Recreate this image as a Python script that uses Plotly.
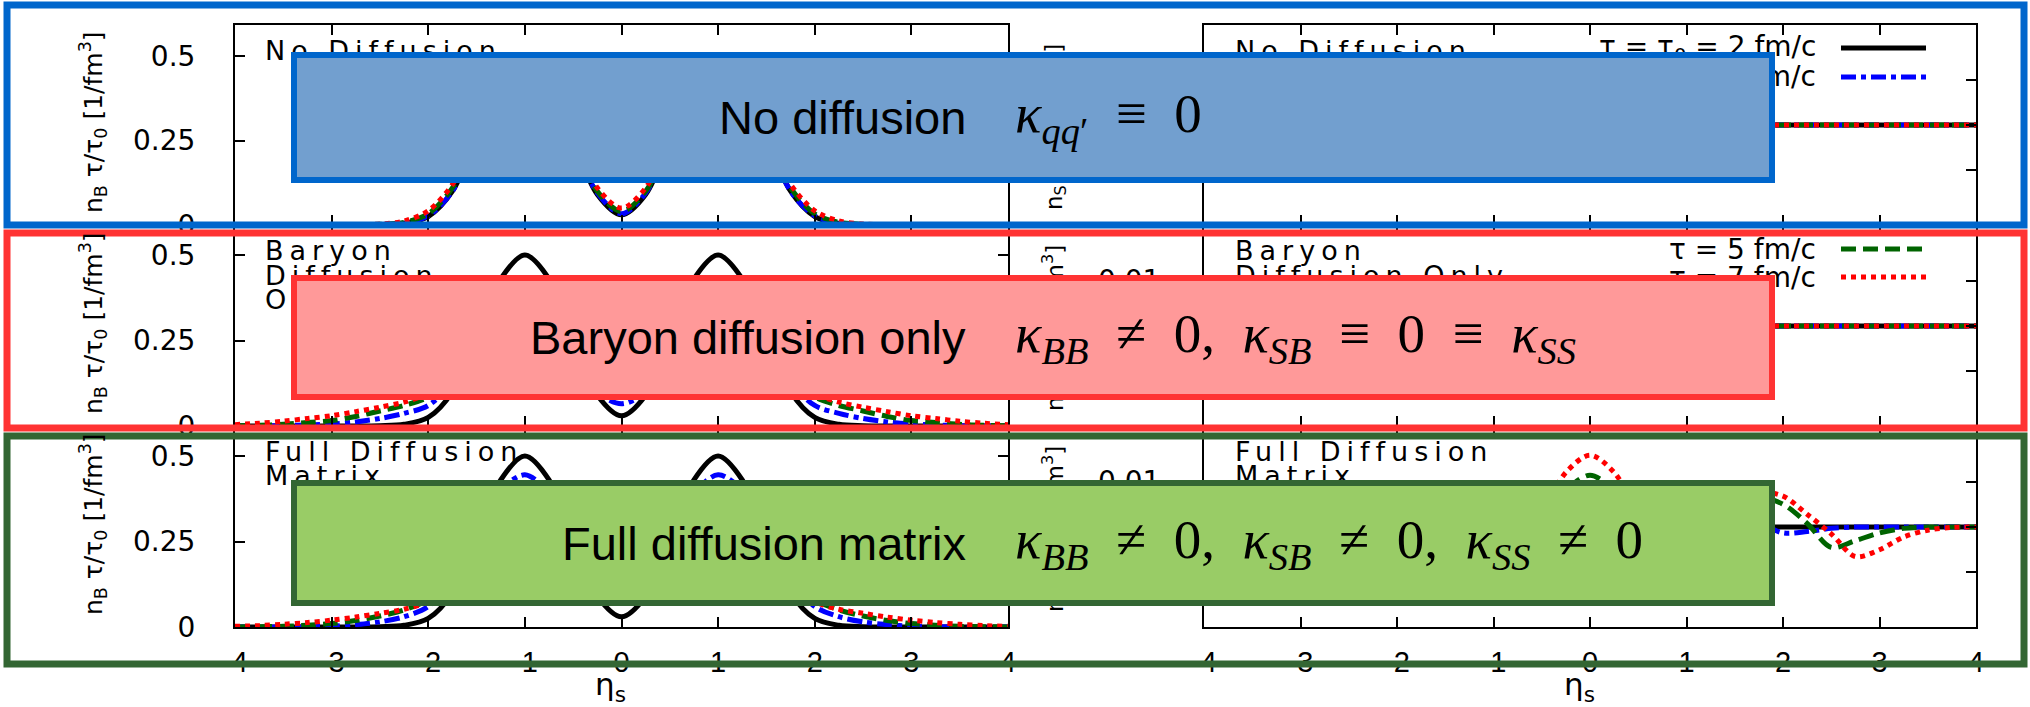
import plotly.graph_objects as go

W, H = 2030, 707

# ---------------- data ----------------
eta = [-4.0, -3.75, -3.5, -3.25, -3.0, -2.75, -2.5, -2.25, -2.0, -1.75, -1.5, -1.25, -1.0,
       -0.75, -0.5, -0.25, 0.0, 0.25, 0.5, 0.75, 1.0, 1.25, 1.5, 1.75, 2.0, 2.25, 2.5, 2.75,
       3.0, 3.25, 3.5, 3.75, 4.0]
eta_flat = [-4.0, 4.0]

# n_B tau/tau0 ; tau = tau0 = 2 fm/c (same initial profile in every row)
nb_t2 = [0, 0, 0, 0, 0, 0, 0.001, 0.005, 0.025, 0.10, 0.26, 0.43, 0.50, 0.43, 0.25, 0.09, 0.03,
         0.09, 0.25, 0.43, 0.50, 0.43, 0.26, 0.10, 0.025, 0.005, 0.001, 0, 0, 0, 0, 0, 0]
# No diffusion
nb_nodiff_t3 = [0, 0, 0, 0, 0, 0, 0.001, 0.006, 0.027, 0.10, 0.26, 0.43, 0.495, 0.43, 0.25, 0.095, 0.033,
                0.095, 0.25, 0.43, 0.495, 0.43, 0.26, 0.10, 0.027, 0.006, 0.001, 0, 0, 0, 0, 0, 0]
nb_nodiff_t5 = [0, 0, 0, 0, 0, 0, 0.002, 0.008, 0.033, 0.11, 0.26, 0.42, 0.49, 0.42, 0.25, 0.10, 0.04,
                0.10, 0.25, 0.42, 0.49, 0.42, 0.26, 0.11, 0.033, 0.008, 0.002, 0, 0, 0, 0, 0, 0]
nb_nodiff_t7 = [0, 0, 0, 0, 0, 0.001, 0.003, 0.012, 0.042, 0.12, 0.26, 0.41, 0.48, 0.41, 0.26, 0.11, 0.05,
                0.11, 0.26, 0.41, 0.48, 0.41, 0.26, 0.12, 0.042, 0.012, 0.003, 0.001, 0, 0, 0, 0, 0]
# Baryon diffusion only
nb_bdiff_t3 = [0, 0, 0.001, 0.003, 0.006, 0.012, 0.022, 0.037, 0.06, 0.13, 0.26, 0.38, 0.43, 0.37, 0.22, 0.10, 0.065,
               0.10, 0.22, 0.37, 0.43, 0.38, 0.26, 0.13, 0.06, 0.037, 0.022, 0.012, 0.006, 0.003, 0.001, 0, 0]
nb_bdiff_t5 = [0.001, 0.002, 0.005, 0.01, 0.016, 0.028, 0.044, 0.06, 0.085, 0.15, 0.26, 0.34, 0.37, 0.34, 0.25, 0.16, 0.12,
               0.16, 0.25, 0.34, 0.37, 0.34, 0.26, 0.15, 0.085, 0.06, 0.044, 0.028, 0.016, 0.01, 0.005, 0.002, 0.001]
nb_bdiff_t7 = [0.004, 0.008, 0.014, 0.022, 0.03, 0.042, 0.055, 0.07, 0.095, 0.15, 0.24, 0.30, 0.32, 0.30, 0.25, 0.19, 0.16,
               0.19, 0.25, 0.30, 0.32, 0.30, 0.24, 0.15, 0.095, 0.07, 0.055, 0.042, 0.03, 0.022, 0.014, 0.008, 0.004]
# Full diffusion matrix
nb_full_t3 = [0, 0, 0, 0.001, 0.002, 0.007, 0.015, 0.03, 0.06, 0.14, 0.28, 0.40, 0.445, 0.39, 0.24, 0.11, 0.07,
              0.11, 0.24, 0.39, 0.445, 0.40, 0.28, 0.14, 0.06, 0.03, 0.015, 0.007, 0.002, 0.001, 0, 0, 0]
nb_full_t5 = [0, 0.001, 0.002, 0.005, 0.01, 0.019, 0.032, 0.05, 0.08, 0.15, 0.26, 0.35, 0.39, 0.35, 0.26, 0.16, 0.12,
              0.16, 0.26, 0.35, 0.39, 0.35, 0.26, 0.15, 0.08, 0.05, 0.032, 0.019, 0.01, 0.005, 0.002, 0.001, 0]
nb_full_t7 = [0.002, 0.004, 0.008, 0.013, 0.02, 0.029, 0.04, 0.052, 0.075, 0.14, 0.24, 0.31, 0.34, 0.31, 0.26, 0.20, 0.17,
              0.20, 0.26, 0.31, 0.34, 0.31, 0.24, 0.14, 0.075, 0.052, 0.04, 0.029, 0.02, 0.013, 0.008, 0.004, 0.002]

# n_S tau/tau0
ns_flat = [0.0, 0.0]
ns_full_t3 = [0, 0, 0, 0, 0, 0, -0.0003, -0.001, -0.0013, 0.001, 0.003, -0.001, -0.005, -0.004, 0.0, 0.005, 0.007,
              0.005, 0.0, -0.004, -0.005, -0.001, 0.003, 0.001, -0.0013, -0.001, -0.0003, 0, 0, 0, 0, 0, 0]
ns_full_t5 = [0, 0, 0, -0.0003, -0.0013, -0.003, -0.0045, 0.0008, 0.005, 0.0065, 0.003, -0.003, -0.007, -0.005, 0.001, 0.008, 0.0114,
              0.008, 0.001, -0.005, -0.007, -0.003, 0.003, 0.0065, 0.005, 0.0008, -0.0045, -0.003, -0.0013, -0.0003, 0, 0, 0]
ns_full_t7 = [0, -0.0001, -0.0007, -0.0022, -0.005, -0.0065, -0.0015, 0.0028, 0.0068, 0.0075, 0.003, -0.005, -0.009, -0.006, 0.003, 0.012, 0.0158,
              0.012, 0.003, -0.006, -0.009, -0.005, 0.003, 0.0075, 0.0068, 0.0028, -0.0015, -0.0065, -0.005, -0.0022, -0.0007, -0.0001, 0]

x_ticks = [-4, -3, -2, -1, 0, 1, 2, 3, 4]
x_ticktext = ["-4", "-3", "-2", "-1", "0", "1", "2", "3", "4"]
yl_ticks = [0, 0.25, 0.5]
yl_ticktext = ["0", "0.25", "0.5"]
yr_ticks = [-0.01, 0, 0.01]
yr_ticktext = ["-0.01", "0", "0.01"]

series_names = ["τ = τ<sub>0</sub> = 2 fm/c", "τ = 3 fm/c", "τ = 5 fm/c", "τ = 7 fm/c"]
row_labels = [["No Diffusion"], ["Baryon", "Diffusion", "Only"], ["Full Diffusion", "Matrix"]]
row_labels_right = [["No Diffusion"], ["Baryon", "Diffusion Only"], ["Full Diffusion", "Matrix"]]
box_titles = ["No diffusion", "Baryon diffusion only", "Full diffusion matrix"]
SP = "\u2002"
box_math = [
    f"<i>κ</i><sub><i>qq</i>′</sub>{SP}≡{SP}0",
    f"<i>κ</i><sub><i>BB</i></sub>{SP}≠{SP}0,{SP}<i>κ</i><sub><i>SB</i></sub>{SP}≡{SP}0{SP}≡{SP}<i>κ</i><sub><i>SS</i></sub>",
    f"<i>κ</i><sub><i>BB</i></sub>{SP}≠{SP}0,{SP}<i>κ</i><sub><i>SB</i></sub>{SP}≠{SP}0,{SP}<i>κ</i><sub><i>SS</i></sub>{SP}≠{SP}0",
]

# ---------------- styling / layout ----------------
colors = ["#000000", "#0000FF", "#006400", "#FF0000"]
dashes = ["solid", "15px,5px,5px,5px", "15px,7px", "5px,5px"]
LW = 5

def px(x):
    return x / W

def py(y):
    return 1 - y / H

LEFT = (235, 1008)
RIGHT = (1204, 1976)
ROWS = [(25, 225), (226, 426), (427, 627)]
YL_RANGES = [[0, 0.592], [0, 0.585], [0, 0.585]]

fig = go.Figure()

left_data = [
    [nb_t2, nb_nodiff_t3, nb_nodiff_t5, nb_nodiff_t7],
    [nb_t2, nb_bdiff_t3, nb_bdiff_t5, nb_bdiff_t7],
    [nb_t2, nb_full_t3, nb_full_t5, nb_full_t7],
]
right_data = [
    [(eta_flat, ns_flat)] * 4,
    [(eta_flat, ns_flat)] * 4,
    [(eta_flat, ns_flat), (eta, ns_full_t3), (eta, ns_full_t5), (eta, ns_full_t7)],
]

for r in range(3):
    kl = 2 * r + 1
    kr = 2 * r + 2
    for i in range(4):
        fig.add_trace(go.Scatter(
            x=eta, y=left_data[r][i], mode="lines",
            line=dict(color=colors[i], width=LW, dash=dashes[i], shape="spline", smoothing=0.9),
            xaxis="x" if kl == 1 else f"x{kl}", yaxis="y" if kl == 1 else f"y{kl}",
            showlegend=False, hoverinfo="skip"))
    for i in range(4):
        xs, ys = right_data[r][i]
        fig.add_trace(go.Scatter(
            x=xs, y=ys, mode="lines",
            line=dict(color=colors[i], width=LW, dash=dashes[i], shape="spline", smoothing=0.9),
            xaxis=f"x{kr}", yaxis=f"y{kr}",
            showlegend=False, hoverinfo="skip"))

ytickfont = dict(family="DejaVu Sans", size=28, color="black")
xtickfont = dict(family="Liberation Sans", size=29, color="black")
layout = dict(
    autosize=True, margin=dict(l=0, r=0, t=0, b=0, pad=0),
    paper_bgcolor="white", plot_bgcolor="white", showlegend=False,
)
for r in range(3):
    top, bot = ROWS[r]
    for c in range(2):
        k = 2 * r + c + 1
        xs = "" if k == 1 else str(k)
        xl, xr = LEFT if c == 0 else RIGHT
        layout["xaxis" + xs] = dict(
            domain=[px(xl), px(xr)], anchor="y" + xs, range=[-4, 4],
            tickmode="array", tickvals=x_ticks, ticktext=x_ticktext, showticklabels=(r == 2),
            ticks="inside", ticklen=10, tickwidth=1.5, tickcolor="black",
            showline=True, linecolor="black", linewidth=2, mirror="ticks",
            showgrid=False, zeroline=False, tickfont=xtickfont, ticklabelstandoff=8,
            automargin=False)
        if c == 0:
            yr, tv, tt, so = YL_RANGES[r], yl_ticks, yl_ticktext, 32
        else:
            yr, tv, tt, so = [-0.022, 0.022], yr_ticks, yr_ticktext, 36
        layout["yaxis" + xs] = dict(
            domain=[py(bot), py(top)], anchor="x" + xs, range=yr,
            tickmode="array", tickvals=tv, ticktext=tt,
            ticks="inside", ticklen=10, tickwidth=1.5, tickcolor="black",
            showline=True, linecolor="black", linewidth=2, mirror="ticks",
            showgrid=False, zeroline=False, tickfont=ytickfont, ticklabelstandoff=so,
            automargin=False)
fig.update_layout(**layout)

annotations = []
shapes = []

def ann(x, y, text, size, family="DejaVu Sans", xanchor="left", yanchor="middle", angle=0, **kw):
    d = dict(x=px(x), y=py(y), xref="paper", yref="paper", text=text, showarrow=False,
             xanchor=xanchor, yanchor=yanchor, textangle=angle,
             font=dict(family=family, size=size, color="black"))
    d.update(kw)
    annotations.append(d)

def spaced(t, s):
    return f'<span style="letter-spacing:{s}px">{t}</span>'

# panel labels
label_rows_y = [50, 251, 451]
for r in range(3):
    for j, t in enumerate(row_labels[r]):
        ann(263, label_rows_y[r] + 24 * j, spaced(t, 6), 27)
    for j, t in enumerate(row_labels_right[r]):
        ann(1233, label_rows_y[r] + 24 * j, spaced(t, 6), 27)

# key (split over the first two right panels)
key_pos = [(0, 48), (0, 77), (1, 249), (1, 277)]
for i, (rr, yk) in enumerate(key_pos):
    ann(1818, yk, series_names[i], 28, xanchor="right")
    shapes.append(dict(type="line", xref="paper", yref="paper",
                       x0=px(1841), x1=px(1926), y0=py(yk), y1=py(yk),
                       line=dict(color=colors[i], width=LW, dash=dashes[i]), layer="above"))

# y titles
for r in range(3):
    yc = (ROWS[r][0] + ROWS[r][1]) / 2
    ann(93, yc - 3, "n<sub>B</sub> τ/τ<sub>0</sub> [1/fm<sup>3</sup>]", 25, xanchor="center", angle=-90)
    ann(1054, yc + 2, "n<sub>S</sub> τ/τ<sub>0</sub> [1/fm<sup>3</sup>]", 23, xanchor="center", angle=-90)

# x titles
ann(610, 686, "η<sub>s</sub>", 31, xanchor="center")
ann(1579, 686, "η<sub>s</sub>", 31, xanchor="center")

# overlay boxes (drawn after -> on top)
box_specs = [
    (52, 183, "#729FCF", "#0066CC"),
    (275, 400, "#FF9999", "#FF3333"),
    (480, 606, "#99CC66", "#336633"),
]
BW = 6
for (t, b, fill, edge) in box_specs:
    annotations.append(dict(
        x=px(291), y=py(t), xref="paper", yref="paper", xanchor="left", yanchor="top",
        text="\u00a0", showarrow=False, width=1775 - 291 - 2 * BW, height=b - t - 2 * BW,
        bgcolor=fill, bordercolor=edge, borderwidth=BW, borderpad=0,
        font=dict(size=10, color=fill)))
for r, (t, b, fill, edge) in enumerate(box_specs):
    yc = (t + b) / 2
    ann(968, yc, box_titles[r], 47, family="Liberation Sans", xanchor="right")
    ann(1013, yc, box_math[r], 55, family="Liberation Serif", xanchor="left")

# outer frames
outer = [(5, 225, "#0066CC"), (233, 428, "#FF3333"), (436, 664, "#336633")]
for (t, b, col) in outer:
    shapes.append(dict(type="rect", xref="paper", yref="paper",
                       x0=px(7), x1=px(2024), y0=py(b), y1=py(t),
                       line=dict(color=col, width=7), fillcolor="rgba(0,0,0,0)", layer="above"))

fig.update_layout(annotations=annotations, shapes=shapes)

fig.write_html("out.html", config={"displayModeBar": False, "responsive": True},
               default_width="100vw;position:fixed;left:0;top:0",
               default_height="100vh",
               post_script="document.body.style.margin='0px';document.body.style.overflow='hidden';")
